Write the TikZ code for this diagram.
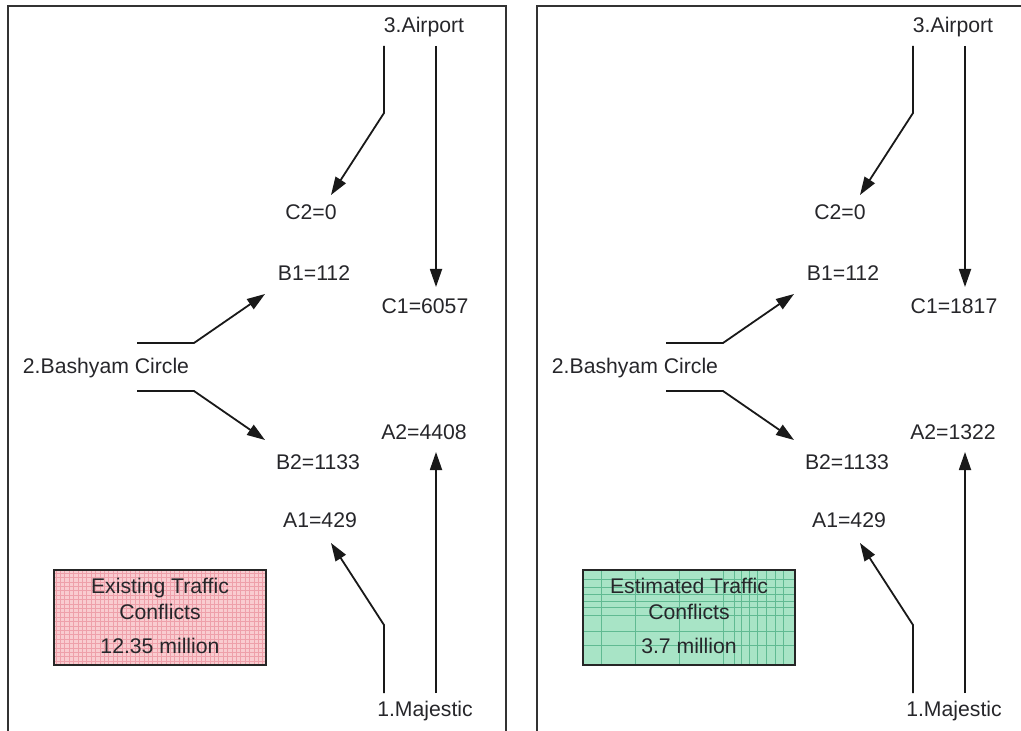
\documentclass[tikz,border=0pt]{standalone}
\usepackage{fontspec}
\setmainfont{Liberation Sans}
\usetikzlibrary{arrows.meta}
\definecolor{conflred}{RGB}{249,204,208}
\definecolor{conflredline}{RGB}{238,160,170}
\definecolor{conflgreen}{RGB}{168,228,198}
\definecolor{conflgreenline}{RGB}{96,186,146}
\definecolor{inkgray}{RGB}{38,38,42}

\begin{document}
\begin{tikzpicture}[
  x=0.5pt,
  y=-0.5pt,
  frame/.style={draw=black!80,line width=1.3pt},
  flow/.style={-{Triangle[length=9pt,width=6pt]},line width=0.9pt,draw=black!90},
  lab/.style={font=\fontsize{10.6}{13}\selectfont,text=inkgray,inner sep=0pt},
  conf/.style={lab,draw=black!85,line width=0.8pt,minimum width=106pt,minimum height=47.5pt,align=center}
]
\useasboundingbox (0,0) rectangle (1021,731);
\clip (0,0) rectangle (1021,731);
\foreach \p/\dx/\cval/\aval in {l/0/6057/4408,r/529/1817/1322} {
  \begin{scope}[shift={(\dx,0)}]
  \draw[frame] (8,6) rectangle (506,760);
  \node[lab] (air\p) at (424,27) {3.Airport};
  \node[lab] (maj\p) at (425,711) {1.Majestic};
  \node[lab] (bash\p) at (106,368) {2.Bashyam Circle};
  \node[lab] (ctwo\p) at (311,212) {C2=0};
  \node[lab] (bone\p) at (314,273) {B1=112};
  \node[lab] (cone\p) at (425,306) {C1=\cval};
  \node[lab] (atwo\p) at (424,432) {A2=\aval};
  \node[lab] (btwo\p) at (318,462) {B2=1133};
  \node[lab] (aone\p) at (320,520) {A1=429};
  % from the airport
  \coordinate (airw\p) at (384,46);
  \coordinate (aire\p) at (436,46);
  \draw[flow] (airw\p) -- (384,113) -- (331,195) coordinate (ctwot\p);
  \draw[flow] (aire\p) -- (436,287) coordinate (conet\p);
  % from bashyam circle
  \coordinate (bashn\p) at (137,343);
  \coordinate (bashs\p) at (137,391);
  \draw[flow] (bashn\p) -- (194,343) -- (265,294) coordinate (bonet\p);
  \draw[flow] (bashs\p) -- (194,391) -- (265,440) coordinate (btwot\p);
  % from majestic
  \coordinate (majw\p) at (384,693);
  \coordinate (maje\p) at (436,693);
  \draw[flow] (majw\p) -- (384,625) -- (331,543) coordinate (aonet\p);
  \draw[flow] (maje\p) -- (436,452) coordinate (atwot\p);
  \end{scope}
}
\node[conf,fill=conflred,
  path picture={\draw[conflredline,line width=0.3pt]
    (path picture bounding box.south west) grid[step=2.2pt] (path picture bounding box.north east);}]
  (exist) at (160,617.5) {\raisebox{1.5pt}{Existing Traffic}\\\raisebox{1.5pt}{Conflicts}\\[4pt]\raisebox{1.5pt}{12.35 million}};
\node[conf,fill=conflgreen,
  path picture={
    \foreach \vx in {18,52,96,140,151,158,166,174,183,192,200}
      \draw[conflgreenline,line width=0.35pt] ([xshift=\vx*0.5pt]path picture bounding box.south west) -- ++(0,60pt);
    \foreach \hy in {20,34,50,58,64,71,78,86}
      \draw[conflgreenline,line width=0.35pt] ([yshift=\hy*0.5pt]path picture bounding box.south west) -- ++(120pt,0);}]
  (estim) at (689,617.5) {\raisebox{1.5pt}{Estimated Traffic}\\\raisebox{1.5pt}{Conflicts}\\[4pt]\raisebox{1.5pt}{3.7 million}};
\end{tikzpicture}
\end{document}
